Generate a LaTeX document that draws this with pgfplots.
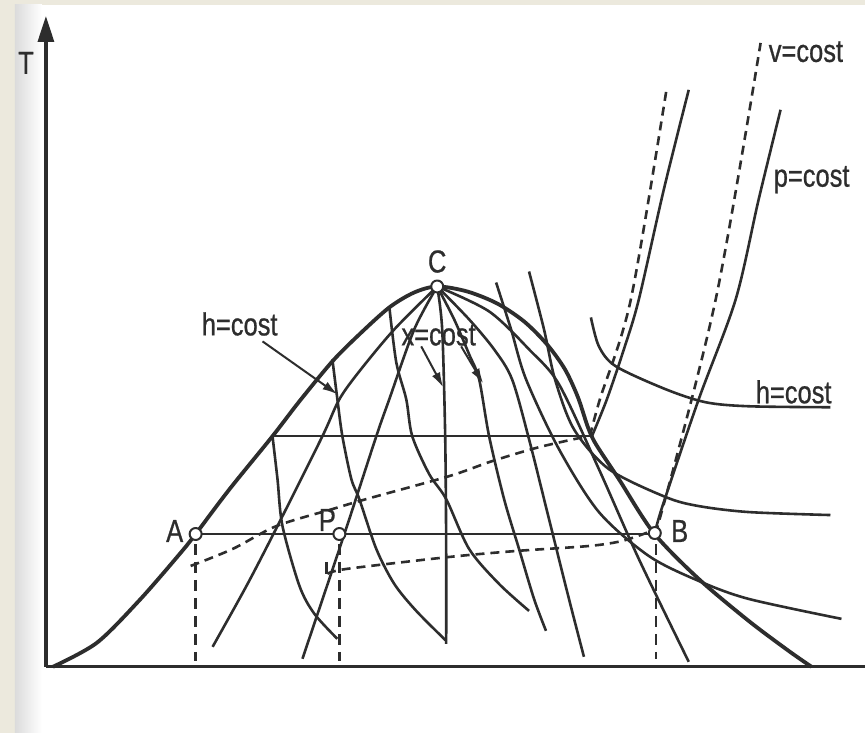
\documentclass[border=0pt]{standalone}
\usepackage{pgfplots}
\pgfplotsset{compat=1.18}
\usepackage{fontspec}
\setmainfont[FakeStretch=0.8,FakeBold=0.7]{Liberation Sans}
\usetikzlibrary{arrows.meta}
\definecolor{ink}{RGB}{45,45,45}
\definecolor{paper}{RGB}{236,233,221}
\newcommand\lab{\fontsize{32}{34}\selectfont}
\begin{document}
\begin{tikzpicture}
\begin{axis}[width=867bp,height=734bp,scale only axis,
  xmin=0,xmax=867,ymin=0,ymax=734,y dir=reverse,
  hide axis,clip=false,
  every axis plot/.append style={ink,line width=2.6bp,line join=round}]

% page background
\addplot[draw=none,fill=paper] coordinates {(0,0)(867,0)(867,734)(0,734)} --cycle;
\addplot[draw=none,fill=white] coordinates {(15,5)(867,5)(867,734)(15,734)} --cycle;
\addplot[draw=none,left color=black!14,right color=white] coordinates {(15,5)(42,5)(42,734)(15,734)} --cycle;

% axes
\addplot[line width=3.2bp] coordinates {(46,668)(867,668)};
\addplot[line width=3.2bp,-{Triangle[length=26bp,width=16bp]}] coordinates {(46,668)(46,16)};

% saturation dome
\addplot[line width=3.8bp,smooth] coordinates {
(53,668)(97,644)(140,601)(180,555)(196,535)(230,490)(273,437)(300,402)(333,362)
(360,335)(390,308)(415,293)(438,287)(468,292)(498,304)(525,322)(548,345)
(566,370)(579,398)(589,428)(597,445)(620,480)(655,534)(700,580)(750,622)(790,652)(813,668)};

% isobars in the two-phase region
\addplot[] coordinates {(273,437)(593,437)};
\addplot[] coordinates {(196,535)(655,535)};

% p = cost beyond the dome
\addplot[smooth] coordinates {(593,437)(608,400)(625,350)(640,300)(665,190)(690,90)};
\addplot[smooth] coordinates {(657,530)(665,503)(700,400)(737,300)(760,200)(782,110)};

% v = cost (dashed)
\addplot[dash pattern=on 9bp off 6bp,smooth] coordinates {
(191,567)(233,550)(277,527)(333,510)(367,500)(450,477)(493,462)(540,448)(589,437)};
\addplot[dash pattern=on 9bp off 6bp,smooth] coordinates {(591,437)(601,400)(632,300)(668,88)};
\addplot[dash pattern=on 9bp off 6bp,smooth] coordinates {
(328,575)(347,570)(450,558)(517,552)(590,547)(623,542)(650,533)};
\addplot[dash pattern=on 9bp off 6bp,smooth] coordinates {(652,530)(660,523)(717,300)(762,43)};
\addplot[line width=2.2bp] coordinates {(327,563)(327,575)};

% verticals from A, P, B
\addplot[dash pattern=on 11bp off 7bp] coordinates {(196,545)(196,662)};
\addplot[dash pattern=on 11bp off 7bp] coordinates {(340,545)(340,662)};
\addplot[dash pattern=on 11bp off 7bp] coordinates {(657,545)(657,660)};

% x = cost lines from C
\addplot[smooth] coordinates {(438,287)(395,330)(360,372)(340,400)(323,437)(280,523)(248,585)(213,648)};
\addplot[smooth] coordinates {(438,287)(415,330)(390,400)(377,437)(345,535)(303,660)};
\addplot[smooth] coordinates {(438,287)(443,330)(446,437)(447,550)(447,645)};
\addplot[smooth] coordinates {(438,287)(455,320)(470,355)(480,380)(490,437)(505,500)(520,550)(535,600)(547,632)};
\addplot[smooth] coordinates {(438,287)(470,320)(495,350)(513,380)(530,440)(550,520)(570,600)(585,658)};
\addplot[smooth] coordinates {(438,287)(490,312)(530,350)(560,385)(600,470)(640,560)(690,663)};

% h = cost curves
\addplot[smooth] coordinates {(273,437)(278,480)(283,527)(300,587)(315,615)(338,640)};
\addplot[smooth] coordinates {(333,360)(338,400)(343,437)(352,480)(360,500)(377,550)(395,585)(417,612)(447,642)};
\addplot[smooth] coordinates {(390,307)(397,363)(407,400)(413,437)(430,475)(447,500)(470,550)(500,585)(530,612)};
\addplot[smooth] coordinates {(497,283)(512,330)(527,380)(560,450)(600,513)(650,557)(700,582)(750,600)(843,620)};
\addplot[smooth] coordinates {(530,272)(545,330)(556,380)(575,430)(610,470)(667,498)(700,507)(750,513)(832,516)};
\addplot[smooth] coordinates {(592,318)(600,347)(617,367)(667,390)(707,403)(750,407)(832,408)};

% leader arrows
\addplot[line width=2bp,-{Latex[length=15bp,width=9bp]}] coordinates {(263,342)(338,395)};
\addplot[line width=2bp,-{Latex[length=15bp,width=9bp]}] coordinates {(422,347)(444,388)};
\addplot[line width=2bp,-{Latex[length=15bp,width=9bp]}] coordinates {(462,347)(484,384)};

% state points
\addplot[only marks,mark=*,mark size=6bp,mark options={fill=white,draw=ink,line width=2bp}]
  coordinates {(196,535)(340,535)(656,534)(438,287)};

% labels
\node[ink,font=\lab] at (axis cs:26,63) {T};
\node[ink,font=\lab] at (axis cs:438,262) {C};
\node[ink,font=\lab] at (axis cs:175,532) {A};
\node[ink,font=\lab] at (axis cs:328,521) {P};
\node[ink,font=\lab] at (axis cs:681,532) {B};
\node[ink,font=\lab,anchor=base west,inner sep=0pt] at (axis cs:202,336) {h=cost};
\node[ink,font=\lab,anchor=base west,inner sep=0pt] at (axis cs:402,346) {x=cost};
\node[ink,font=\lab,anchor=base west,inner sep=0pt] at (axis cs:770,62) {v=cost};
\node[ink,font=\lab,anchor=base west,inner sep=0pt] at (axis cs:775,187) {p=cost};
\node[ink,font=\lab,anchor=base west,inner sep=0pt] at (axis cs:757,404) {h=cost};
\end{axis}
\end{tikzpicture}
\end{document}
